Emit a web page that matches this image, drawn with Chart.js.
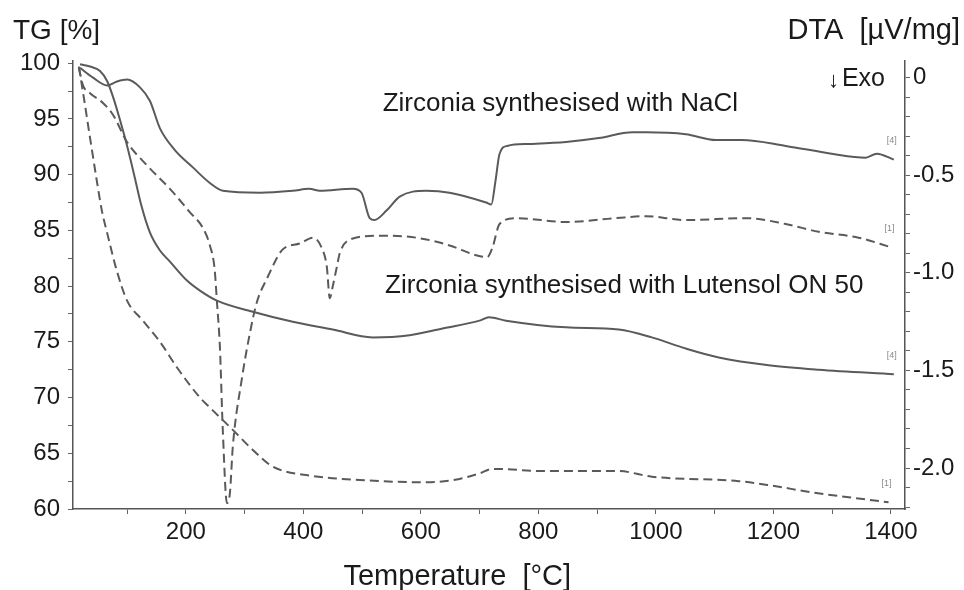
<!DOCTYPE html>
<html>
<head>
<meta charset="utf-8">
<script src="https://cdn.jsdelivr.net/npm/chart.js@4.4.1/dist/chart.umd.min.js"></script>
<style>
  body { margin: 0; background: #fff; }
  #wrap { width: 964px; height: 590px; }
</style>
</head>
<body>
<div id="wrap"><canvas id="tgChart" width="964" height="590"></canvas></div>
<script>
// TG / DTA curves
// NaCl sample: solid lines
const tgNaClT = [20, 37, 54, 66, 76, 88, 100, 112, 124, 139, 156, 173, 202, 224, 253, 314, 382, 450, 518, 581, 637, 700, 716, 745, 847, 937, 993, 1051, 1107, 1192, 1277, 1405];
const tgNaCl = [99.9, 99.7, 99.3, 98.4, 97.0, 94.9, 92.6, 90.0, 87.3, 84.8, 83.2, 82.2, 80.5, 79.6, 78.7, 77.7, 76.8, 76.1, 75.4, 75.6, 76.2, 76.9, 77.2, 76.9, 76.3, 76.1, 75.4, 74.4, 73.6, 72.9, 72.5, 72.1];

const dtaNaClT = [20, 42, 66, 83, 100, 122, 139, 156, 181, 212, 241, 263, 326, 382, 410, 428, 484, 499, 513, 521, 542, 564, 609, 649, 711, 720, 727, 734, 747, 784, 847, 903, 960, 983, 1051, 1102, 1146, 1221, 1299, 1357, 1376, 1405];
const dtaNaCl = [0.05, 0.0, -0.04, -0.02, -0.01, -0.05, -0.12, -0.26, -0.37, -0.46, -0.54, -0.58, -0.59, -0.58, -0.57, -0.58, -0.57, -0.59, -0.72, -0.73, -0.68, -0.61, -0.58, -0.59, -0.64, -0.65, -0.53, -0.39, -0.35, -0.34, -0.33, -0.31, -0.28, -0.28, -0.29, -0.32, -0.32, -0.35, -0.39, -0.41, -0.39, -0.42];

// Lutensol ON 50 sample: dashed lines
const tgLutT = [18, 25, 37, 49, 57, 66, 83, 100, 127, 156, 185, 224, 241, 280, 314, 348, 411, 496, 609, 666, 700, 722, 813, 937, 993, 1141, 1197, 1265, 1396];
const tgLut = [99.7, 97.4, 93.3, 89.3, 86.8, 84.8, 81.3, 78.7, 76.9, 75.0, 72.7, 70.0, 69.1, 67.1, 65.3, 63.8, 63.0, 62.6, 62.4, 62.7, 63.2, 63.6, 63.4, 63.4, 62.9, 62.5, 62.1, 61.5, 60.6];

const dtaLutT = [18, 25, 37, 59, 76, 100, 134, 173, 207, 229, 241, 249, 253, 258, 263, 270, 275, 280, 295, 309, 321, 338, 365, 394, 416, 431, 440, 445, 450, 457, 462, 479, 530, 592, 649, 694, 713, 722, 734, 762, 847, 932, 983, 1051, 1153, 1221, 1277, 1345, 1401];
const dtaLut = [0.05, -0.04, -0.08, -0.13, -0.19, -0.33, -0.45, -0.57, -0.69, -0.77, -0.86, -0.98, -1.15, -1.38, -1.81, -2.18, -2.13, -1.89, -1.55, -1.31, -1.15, -1.03, -0.88, -0.85, -0.82, -0.87, -0.97, -1.13, -1.07, -0.97, -0.90, -0.83, -0.81, -0.82, -0.86, -0.91, -0.92, -0.87, -0.75, -0.72, -0.74, -0.72, -0.71, -0.73, -0.72, -0.75, -0.79, -0.82, -0.87];

// tick labels
const tempLabels = [200, 400, 600, 800, 1000, 1200, 1400];
const tgLabels = [60, 65, 70, 75, 80, 85, 90, 95, 100];
const dtaLabels = [0, -0.5, -1.0, -1.5, -2.0];

const lineColor = '#5a5a5a';
const textColor = '#1a1a1a';
const font = '"Liberation Sans", Arial, sans-serif';

function pts(xs, ys) {
    return xs.map((t, i) => ({ x: t, y: ys[i] }));
}

// tick values come out with float noise, so compare loosely
function findLabel(list, v) {
    return list.find(l => Math.abs(l - v) < 1e-6);
}

function curve(label, xs, ys, axis, dashed) {
    return {
        label: label,
        data: pts(xs, ys),
        yAxisID: axis,
        borderColor: lineColor,
        borderWidth: 2,
        borderDash: dashed ? [9, 5] : [],
        pointRadius: 0,
        cubicInterpolationMode: 'monotone',
        fill: false
    };
}

// titles, curve labels and the little [1]/[4] marks
const textPlugin = {
    id: 'figureTexts',
    afterDraw(chart) {
        const { ctx, chartArea, scales } = chart;
        const x = scales.x, y = scales.y, y1 = scales.y1;
        ctx.save();
        ctx.fillStyle = textColor;
        ctx.textBaseline = 'middle';

        ctx.font = '28px ' + font;
        ctx.textAlign = 'left';
        ctx.fillText('TG [%]', 13, 31);
        ctx.font = '29px ' + font;
        ctx.textAlign = 'right';
        ctx.fillText('DTA  [\u00b5V/mg]', 960, 31);

        ctx.textAlign = 'center';
        ctx.fillText('Temperature  [\u00b0C]', x.getPixelForValue(662), chart.height - 13);

        ctx.font = '26px ' + font;
        ctx.textAlign = 'left';
        ctx.fillText('Zirconia synthesised with NaCl', x.getPixelForValue(535), y.getPixelForValue(96.4));
        ctx.fillText('Zirconia synthesised with Lutensol ON 50', x.getPixelForValue(539), y.getPixelForValue(80.0));

        ctx.font = '25px ' + font;
        ctx.textAlign = 'right';
        ctx.fillText('Exo', chartArea.right - 20, y1.getPixelForValue(0) + 2);
        ctx.font = '22px ' + font;
        ctx.fillText('\u2193', chartArea.right - 66, y1.getPixelForValue(0) + 3);

        ctx.font = '9px ' + font;
        ctx.fillStyle = '#8a8a8a';
        ctx.textAlign = 'center';
        const ends = [
            ['[4]', dtaNaClT, dtaNaCl, y1],
            ['[1]', dtaLutT, dtaLut, y1],
            ['[4]', tgNaClT, tgNaCl, y],
            ['[1]', tgLutT, tgLut, y]
        ];
        ends.forEach(([txt, xs, ys, sc]) => {
            const n = xs.length - 1;
            ctx.fillText(txt, x.getPixelForValue(xs[n]) - 2, sc.getPixelForValue(ys[n]) - 19);
        });
        ctx.restore();
    }
};

const axisGrid = { display: true, drawOnChartArea: false, drawTicks: true, tickLength: 5, color: '#666', lineWidth: 1 };
const axisBorder = { display: true, color: '#555', width: 1.5 };
const tickFont = { family: font, size: 24 };

new Chart(document.getElementById('tgChart'), {
    type: 'line',
    data: {
        datasets: [
            curve('DTA NaCl', dtaNaClT, dtaNaCl, 'y1', false),
            curve('TG NaCl', tgNaClT, tgNaCl, 'y', false),
            curve('DTA Lutensol ON 50', dtaLutT, dtaLut, 'y1', true),
            curve('TG Lutensol ON 50', tgLutT, tgLut, 'y', true)
        ]
    },
    options: {
        responsive: false,
        animation: false,
        layout: { padding: { top: 61, left: 0, right: 0, bottom: 0 } },
        plugins: {
            legend: { display: false },
            tooltip: { enabled: false }
        },
        scales: {
            x: {
                type: 'linear',
                min: 8,
                max: 1424,
                grid: axisGrid,
                border: axisBorder,
                ticks: {
                    stepSize: 100,
                    includeBounds: false,
                    autoSkip: false,
                    maxRotation: 0,
                    padding: 4,
                    color: textColor,
                    font: tickFont,
                    callback: v => {
                        const m = findLabel(tempLabels, v);
                        return m === undefined ? '' : String(m);
                    }
                },
                afterFit: s => { s.height = 81; }
            },
            y: {
                position: 'left',
                min: 60,
                max: 100.2,
                grid: axisGrid,
                border: axisBorder,
                ticks: {
                    stepSize: 2.5,
                    includeBounds: false,
                    autoSkip: false,
                    padding: 8,
                    color: textColor,
                    font: tickFont,
                    callback: v => {
                        const m = findLabel(tgLabels, v);
                        return m === undefined ? '' : String(m);
                    }
                },
                afterFit: s => { s.width = 73; }
            },
            y1: {
                position: 'right',
                min: -2.21,
                max: 0.085,
                grid: axisGrid,
                border: axisBorder,
                ticks: {
                    stepSize: 0.1,
                    includeBounds: false,
                    autoSkip: false,
                    padding: 3,
                    color: textColor,
                    font: tickFont,
                    callback: v => {
                        const m = findLabel(dtaLabels, v);
                        if (m === undefined) return '';
                        return m === 0 ? '0' : m.toFixed(1);
                    }
                },
                afterFit: s => { s.width = 59; }
            }
        }
    },
    plugins: [textPlugin]
});
</script>
</body>
</html>
